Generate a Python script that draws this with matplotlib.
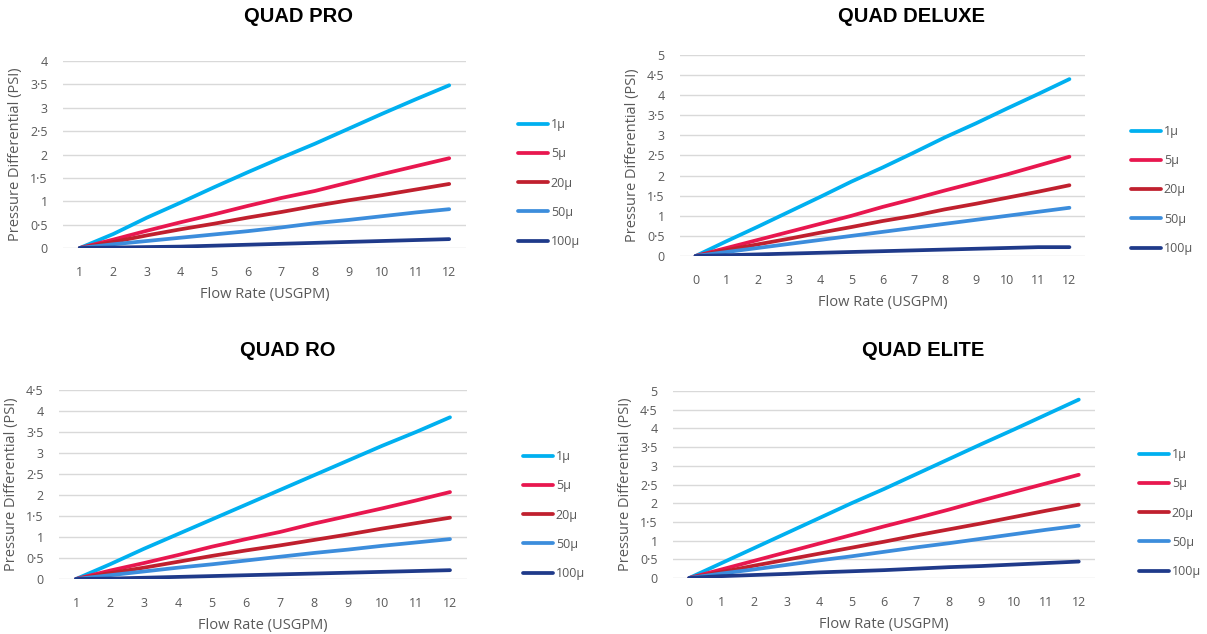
import matplotlib
matplotlib.use("Agg")
import matplotlib.pyplot as plt

W, H = 1207, 634

series_labels = ["1\u03bc", "5\u03bc", "20\u03bc", "50\u03bc", "100\u03bc"]
series_colors = ["#00B0F0", "#E8174F", "#C0202E", "#3C8DDC", "#1F3A8A"]

# QUAD PRO
pro_x = ["1", "2", "3", "4", "5", "6", "7", "8", "9", "10", "11", "12"]
pro_1 = [0, 0.30, 0.65, 0.97, 1.30, 1.62, 1.93, 2.23, 2.55, 2.87, 3.18, 3.48]
pro_5 = [0, 0.18, 0.37, 0.55, 0.72, 0.90, 1.07, 1.22, 1.40, 1.58, 1.75, 1.92]
pro_20 = [0, 0.13, 0.27, 0.40, 0.52, 0.65, 0.77, 0.90, 1.02, 1.13, 1.25, 1.37]
pro_50 = [0, 0.08, 0.15, 0.22, 0.29, 0.36, 0.44, 0.53, 0.60, 0.68, 0.76, 0.83]
pro_100 = [0, 0.01, 0.02, 0.03, 0.05, 0.07, 0.09, 0.11, 0.13, 0.15, 0.17, 0.19]

# QUAD DELUXE
deluxe_x = ["0", "1", "2", "3", "4", "5", "6", "7", "8", "9", "10", "11", "12"]
deluxe_1 = [0, 0.37, 0.73, 1.10, 1.47, 1.85, 2.20, 2.57, 2.95, 3.30, 3.67, 4.03, 4.40]
deluxe_5 = [0, 0.20, 0.40, 0.60, 0.80, 1.00, 1.22, 1.42, 1.63, 1.83, 2.03, 2.25, 2.47]
deluxe_20 = [0, 0.15, 0.29, 0.43, 0.58, 0.72, 0.87, 1.00, 1.16, 1.30, 1.45, 1.60, 1.76]
deluxe_50 = [0, 0.10, 0.20, 0.30, 0.40, 0.50, 0.60, 0.70, 0.80, 0.90, 1.00, 1.10, 1.20]
deluxe_100 = [0, 0.02, 0.04, 0.06, 0.08, 0.10, 0.12, 0.14, 0.16, 0.18, 0.20, 0.22, 0.22]

# QUAD RO
ro_x = ["1", "2", "3", "4", "5", "6", "7", "8", "9", "10", "11", "12"]
ro_1 = [0, 0.35, 0.72, 1.07, 1.42, 1.77, 2.12, 2.47, 2.82, 3.17, 3.50, 3.85]
ro_5 = [0, 0.20, 0.38, 0.57, 0.77, 0.95, 1.12, 1.32, 1.50, 1.68, 1.87, 2.07]
ro_20 = [0, 0.14, 0.27, 0.41, 0.55, 0.68, 0.80, 0.93, 1.06, 1.20, 1.33, 1.46]
ro_50 = [0, 0.09, 0.18, 0.27, 0.35, 0.44, 0.53, 0.62, 0.70, 0.79, 0.87, 0.95]
ro_100 = [0, 0.01, 0.03, 0.05, 0.07, 0.09, 0.11, 0.13, 0.15, 0.17, 0.19, 0.21]

# QUAD ELITE
elite_x = ["0", "1", "2", "3", "4", "5", "6", "7", "8", "9", "10", "11", "12"]
elite_1 = [0, 0.40, 0.80, 1.20, 1.60, 2.00, 2.38, 2.78, 3.18, 3.58, 3.97, 4.37, 4.77]
elite_5 = [0, 0.23, 0.46, 0.69, 0.92, 1.15, 1.38, 1.60, 1.83, 2.07, 2.30, 2.53, 2.76]
elite_20 = [0, 0.16, 0.33, 0.49, 0.65, 0.81, 0.97, 1.14, 1.30, 1.46, 1.63, 1.80, 1.96]
elite_50 = [0, 0.12, 0.23, 0.35, 0.47, 0.58, 0.70, 0.82, 0.93, 1.05, 1.17, 1.29, 1.40]
elite_100 = [0, 0.05, 0.08, 0.11, 0.15, 0.18, 0.21, 0.25, 0.29, 0.32, 0.36, 0.40, 0.44]

pro_yticks = [0, 0.5, 1, 1.5, 2, 2.5, 3, 3.5, 4]
ro_yticks = [0, 0.5, 1, 1.5, 2, 2.5, 3, 3.5, 4, 4.5]
five_yticks = [0, 0.5, 1, 1.5, 2, 2.5, 3, 3.5, 4, 4.5, 5]

plt.rcParams["font.family"] = ["Open Sans", "DejaVu Sans"]
gray = "#595959"

fig = plt.figure(figsize=(W / 100, H / 100), dpi=100)


def px_axes(left, right, top, bottom):
    return fig.add_axes([left / W, 1 - bottom / H, (right - left) / W, (bottom - top) / H])


panels = [
    # title, cats, data, yticks, axes box (l, r, top, bottom), title centre, legend anchor
    ("QUAD PRO", pro_x, [pro_1, pro_5, pro_20, pro_50, pro_100], pro_yticks,
     (63, 466, 61, 248), (298, 17), (512, 183)),
    ("QUAD DELUXE", deluxe_x, [deluxe_1, deluxe_5, deluxe_20, deluxe_50, deluxe_100], five_yticks,
     (680, 1085, 55, 256), (912, 17), (1125, 190)),
    ("QUAD RO", ro_x, [ro_1, ro_5, ro_20, ro_50, ro_100], ro_yticks,
     (59, 467, 390, 579), (288, 350), (517, 515)),
    ("QUAD ELITE", elite_x, [elite_1, elite_5, elite_20, elite_50, elite_100], five_yticks,
     (673, 1095, 391, 578), (923, 350), (1133, 513)),
]

for title, cats, data, yticks, box, tpos, lpos in panels:
    ax = px_axes(*box)
    xs = range(len(cats))
    for vals, lab, col in zip(data, series_labels, series_colors):
        ax.plot(xs, vals, color=col, lw=2.7, label=lab, solid_capstyle="round")
    ax.set_xlim(-0.5, len(cats) - 0.5)
    ax.set_ylim(0, yticks[-1])
    ax.set_xticks(list(xs))
    ax.set_xticklabels(cats)
    ax.set_yticks(yticks)
    ax.set_yticklabels([("%g" % t).replace(".", "\u00b7") for t in yticks])
    ax.grid(axis="y", color="#D9D9D9", lw=1)
    ax.set_axisbelow(True)
    for s in ax.spines.values():
        s.set_visible(False)
    ax.tick_params(length=0, colors=gray, labelsize=9)
    ax.tick_params(axis="x", pad=13)
    ax.tick_params(axis="y", pad=11)
    ax.set_xlabel("Flow Rate (USGPM)", color=gray, fontsize=10.5, labelpad=6)
    ax.set_ylabel("Pressure Differential (PSI)", color=gray, fontsize=10.5, labelpad=5)
    fig.text(tpos[0] / W, 1 - tpos[1] / H, title, ha="center", va="center",
             fontsize=14.5, fontweight="bold", family="Liberation Sans", color="black")
    ax.legend(loc="center left", bbox_to_anchor=(lpos[0] / W, 1 - lpos[1] / H),
              bbox_transform=fig.transFigure, frameon=False, fontsize=9,
              handlelength=2.4, handletextpad=0.2, labelspacing=1.3, borderpad=0,
              labelcolor=gray)

fig.savefig("out.png", dpi=100)
